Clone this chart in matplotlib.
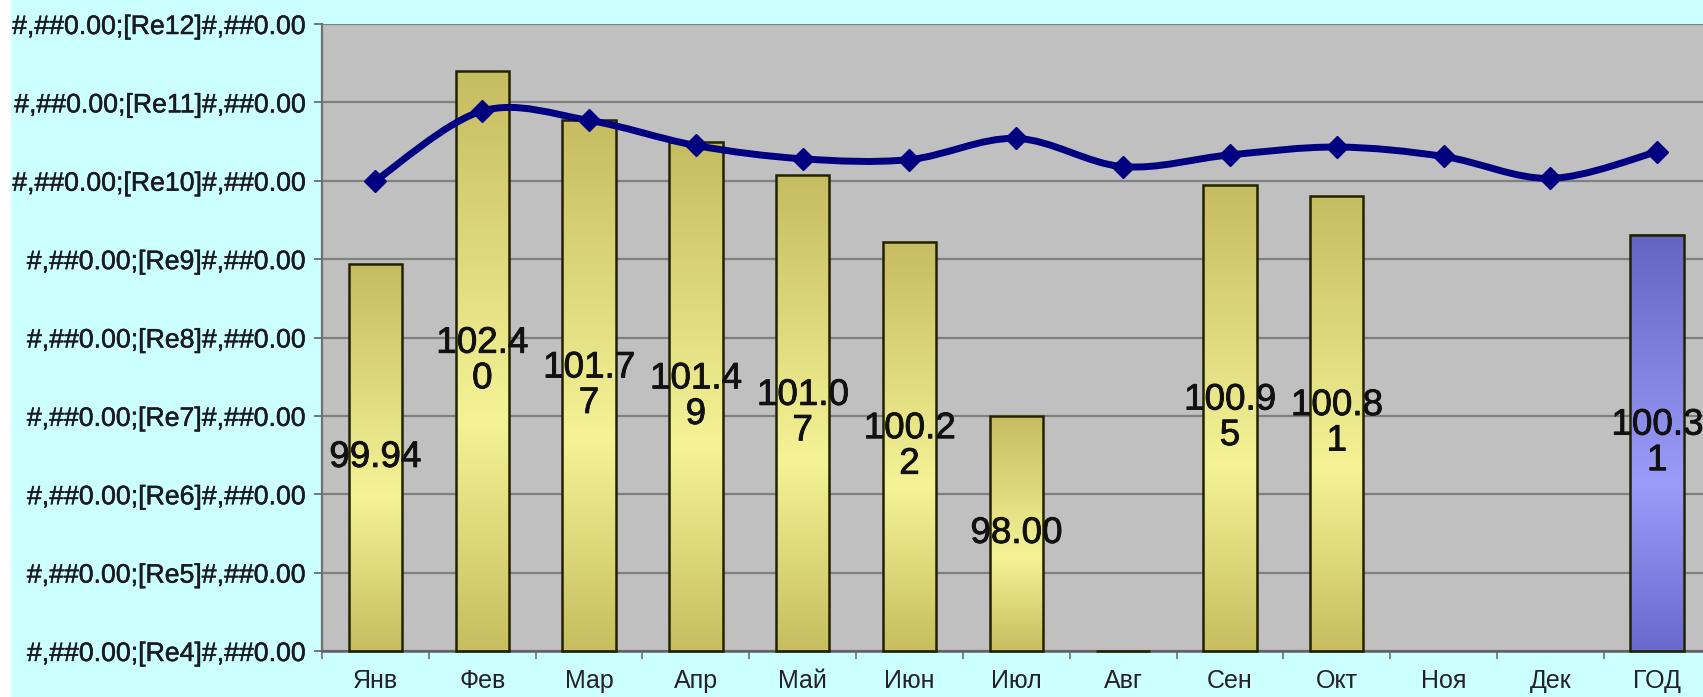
import numpy as np
import matplotlib
matplotlib.use("Agg")
import matplotlib.pyplot as plt
import matplotlib.patheffects as pe
from matplotlib.path import Path
from matplotlib.patches import PathPatch, Rectangle

# ---- data ----
categories = ["Янв", "Фев", "Мар", "Апр", "Май", "Июн", "Июл", "Авг",
              "Сен", "Окт", "Ноя", "Дек", "ГОД"]
bar_values = [99.94, 102.40, 101.77, 101.49, 101.07, 100.22, 98.00, 0.0,
              100.95, 100.81, None, None, 100.31]
bar_labels = ["99.94", "102.4\n0", "101.7\n7", "101.4\n9", "101.0\n7", "100.2\n2",
              "98.00", "", "100.9\n5", "100.8\n1", "", "", "100.3\n1"]
line_values = [101.00, 101.89, 101.77, 101.45, 101.28, 101.27, 101.54, 101.18,
               101.33, 101.43, 101.31, 101.03, 101.37]
y_ticks = [95, 96, 97, 98, 99, 100, 101, 102, 103]
y_tick_labels = ["#,##0.00;[Re%d]#,##0.00" % i for i in range(4, 13)]

YMIN, YMAX = 95, 103
BG = "#CCFFFF"
PLOT_BG = "#C0C0C0"

plt.rcParams['font.family'] = ['Liberation Sans', 'DejaVu Sans']

fig = plt.figure(figsize=(17.03, 6.97), dpi=100, facecolor=BG)
# white strip at far left
fig.patches.append(Rectangle((0, 0), 11 / 1703, 1, transform=fig.transFigure,
                             facecolor="white", edgecolor="none", zorder=0))

ax = fig.add_axes([322 / 1703, 46 / 697, 1388.6 / 1703, 627 / 697])
ax.set_facecolor(PLOT_BG)
ax.set_xlim(-0.5, len(categories) - 0.5)
ax.set_ylim(YMIN, YMAX)

# gridlines
ax.set_yticks(y_ticks)
ax.set_yticklabels(y_tick_labels, fontsize=19.2, color="#1a1a22")
for t in ax.get_yticklabels():
    t.set_path_effects([pe.Stroke(linewidth=0.35, foreground="#1a1a22"), pe.Normal()])
ax.yaxis.grid(True, color="#808080", linewidth=1.6, zorder=0)
ax.set_axisbelow(True)
ax.tick_params(axis="y", length=6, width=1.2, color="#606060", pad=7)

ax.set_xticks(range(len(categories)))
ax.set_xticklabels(categories, fontsize=18, color="#222228")
ax.tick_params(axis="x", which="major", length=0, pad=13)
ax.set_xticks(np.arange(-0.5, len(categories), 1.0), minor=True)
ax.tick_params(axis="x", which="minor", length=6, width=1.2, color="#707070")

for s in ["top", "right"]:
    ax.spines[s].set_visible(False)
ax.spines["left"].set_color("#707070")
ax.spines["left"].set_linewidth(1.6)
ax.spines["bottom"].set_color("#606060")
ax.spines["bottom"].set_linewidth(1.8)


def gradient(c_top, c_mid, c_bot, peak=0.4, n=256):
    t = np.linspace(0, 1, n)  # 0 = bottom, 1 = top
    c_top, c_mid, c_bot = [np.array(c) / 255.0 for c in (c_top, c_mid, c_bot)]
    out = np.zeros((n, 1, 3))
    for i, tt in enumerate(t):
        if tt <= peak:
            f = tt / peak
            out[i, 0] = c_bot * (1 - f) + c_mid * f
        else:
            f = (tt - peak) / (1 - peak)
            out[i, 0] = c_mid * (1 - f) + c_top * f
    return out

yellow = gradient((198, 188, 98), (245, 243, 150), (198, 190, 95))
blue = gradient((100, 100, 195), (155, 155, 250), (105, 105, 205))

width = 0.5
for i, v in enumerate(bar_values):
    if v is None:
        continue
    top = max(v, YMIN)
    x0 = i - width / 2
    img = blue if categories[i] == "ГОД" else yellow
    if top > YMIN:
        ax.imshow(img, extent=(x0, x0 + width, YMIN, top), origin="lower",
                  aspect="auto", zorder=2, interpolation="bilinear")
    ax.add_patch(Rectangle((x0, YMIN), width, top - YMIN, facecolor="none",
                           edgecolor="#222200", linewidth=1.8, zorder=3,
                           clip_on=False))
    if bar_labels[i]:
        ax.text(i, (YMIN + top) / 2, bar_labels[i], ha="center", va="center",
                fontsize=26.5, color="#111111", linespacing=1.02, zorder=6,
                path_effects=[pe.Stroke(linewidth=0.6, foreground="#111111"),
                              pe.Normal()])

# smoothed line (Catmull-Rom -> cubic Bezier)
xs = np.arange(len(line_values), dtype=float)
ys = np.array(line_values, dtype=float)
pts = np.column_stack([xs, ys])
verts = [pts[0]]
codes = [Path.MOVETO]
n = len(pts)
for i in range(n - 1):
    p0 = pts[i - 1] if i > 0 else pts[i]
    p1 = pts[i]
    p2 = pts[i + 1]
    p3 = pts[i + 2] if i + 2 < n else pts[i + 1]
    c1 = p1 + (p2 - p0) / 6.0
    c2 = p2 - (p3 - p1) / 6.0
    verts += [c1, c2, p2]
    codes += [Path.CURVE4] * 3
ax.add_patch(PathPatch(Path(verts, codes), facecolor="none", edgecolor="#000080",
                       linewidth=5.0, zorder=4, capstyle="round", joinstyle="round"))
ax.plot(xs, ys, linestyle="none", marker="D", markersize=11.5,
        color="#000080", zorder=5)

ax.set_xlim(-0.5, len(categories) - 0.5)
ax.set_ylim(YMIN, YMAX)

fig.savefig("out.png", dpi=100, facecolor=BG)
